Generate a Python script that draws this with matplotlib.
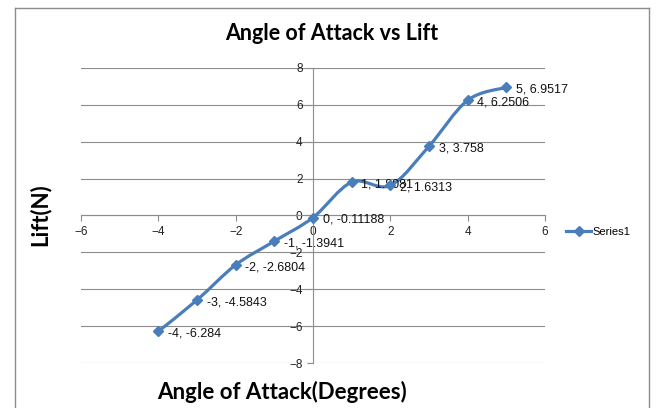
import matplotlib.pyplot as plt
from matplotlib.path import Path
from matplotlib.patches import PathPatch
from matplotlib.lines import Line2D

# angle of attack (degrees) and measured lift (N)
angle = [-4, -3, -2, -1, 0, 1, 2, 3, 4, 5]
lift = [-6.284, -4.5843, -2.6804, -1.3941, -0.11188, 1.8081, 1.6313, 3.758, 6.2506, 6.9517]

x_ticks = [-6, -4, -2, 0, 2, 4, 6]
y_ticks = [-8, -6, -4, -2, 0, 2, 4, 6, 8]

blue = '#4A7EBB'
grid_grey = '#8C8C8C'


# smoothed line like a spreadsheet chart: cubic bezier through every point
def smooth_path(xs, ys):
    pts = list(zip(xs, ys))
    verts = [pts[0]]
    codes = [Path.MOVETO]
    n = len(pts)
    for i in range(n - 1):
        p0 = pts[max(i - 1, 0)]
        p1 = pts[i]
        p2 = pts[i + 1]
        p3 = pts[min(i + 2, n - 1)]
        c1 = (p1[0] + (p2[0] - p0[0]) / 6, p1[1] + (p2[1] - p0[1]) / 6)
        c2 = (p2[0] - (p3[0] - p1[0]) / 6, p2[1] - (p3[1] - p1[1]) / 6)
        verts += [c1, c2, p2]
        codes += [Path.CURVE4] * 3
    return Path(verts, codes)


fig = plt.figure(figsize=(6.56, 4.08), dpi=100)
ax = fig.add_axes([81 / 656, 1 - 363 / 408, 464 / 656, 295 / 408])

ax.set_xlim(-6, 6)
ax.set_ylim(-8, 8)
ax.set_xticks(x_ticks)
ax.set_yticks(y_ticks)

# axes cross at zero
ax.spines['left'].set_position('zero')
ax.spines['bottom'].set_position('zero')
ax.spines['right'].set_visible(False)
ax.spines['top'].set_visible(False)
for s in ('left', 'bottom'):
    ax.spines[s].set_color(grid_grey)
    ax.spines[s].set_linewidth(0.8)

ax.yaxis.grid(True, color=grid_grey, linewidth=0.8)
ax.set_axisbelow(True)
ax.tick_params(axis='both', direction='out', length=4, width=0.8, color=grid_grey,
               labelsize=8.5, labelcolor='#222222')
for lab in ax.get_xticklabels() + ax.get_yticklabels():
    lab.set_family('Liberation Sans')

ax.add_patch(PathPatch(smooth_path(angle, lift), facecolor='none', edgecolor=blue,
                       linewidth=2.3, transform=ax.transData, zorder=3))
ax.plot(angle, lift, linestyle='none', marker='D', markersize=5.5, color=blue, zorder=4)

for a, l in zip(angle, lift):
    ax.annotate(f'{a}, {l:g}', (a, l), xytext=(7, -1.5), textcoords='offset points',
                ha='left', va='center', fontsize=9, family='Liberation Sans', color='#111111')

fig.text(332 / 656, 1 - 34 / 408, 'Angle of Attack vs Lift', fontsize=15.5, fontweight='bold',
         family='Lato', ha='center', va='center')
fig.text(282 / 656, 1 - 392 / 408, 'Angle of Attack(Degrees)', fontsize=16, fontweight='bold',
         family='Lato', ha='center', va='center')
fig.text(40 / 656, 1 - 215 / 408, 'Lift(N)', fontsize=16, fontweight='bold', family='Lato',
         rotation=90, ha='center', va='center')

handle = Line2D([], [], color=blue, linewidth=2.3, marker='D', markersize=5.5)
fig.legend([handle], ['Series1'], loc='center left', bbox_to_anchor=(562 / 656, 1 - 232 / 408),
           frameon=False, handlelength=2.2, handletextpad=0.1, borderaxespad=0,
           prop={'family': 'Liberation Sans', 'size': 8})

# outer chart border (bottom edge falls outside the image)
border = dict(color='#8C8C8C', linewidth=1, transform=fig.transFigure, clip_on=False)
fig.add_artist(Line2D([15 / 656, 15 / 656], [0, 1 - 8 / 408], **border))
fig.add_artist(Line2D([15 / 656, 649 / 656], [1 - 8 / 408, 1 - 8 / 408], **border))
fig.add_artist(Line2D([649 / 656, 649 / 656], [0, 1 - 8 / 408], **border))

fig.savefig('out.png', dpi=100)
